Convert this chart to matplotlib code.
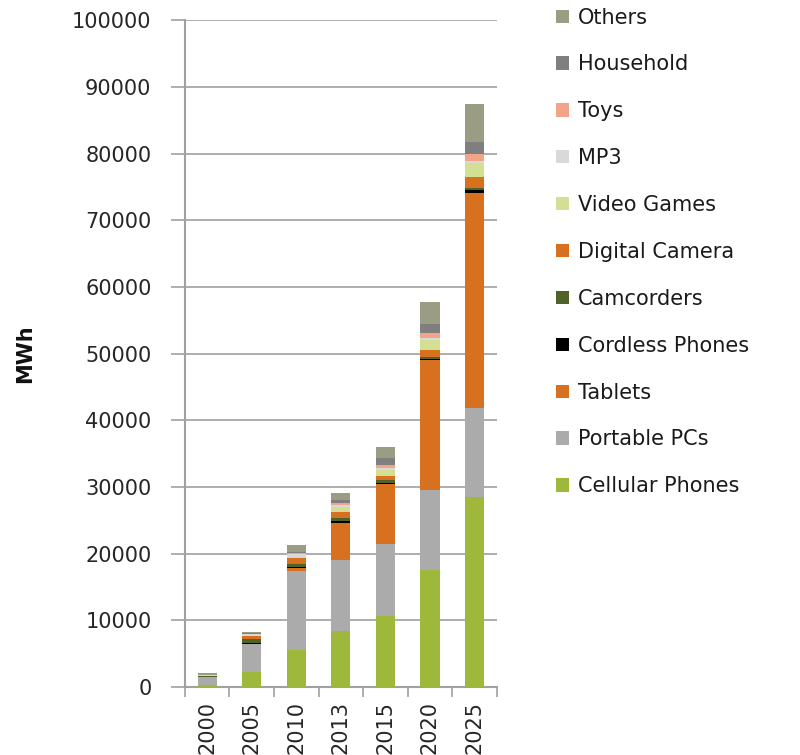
import matplotlib
matplotlib.use("Agg")
import matplotlib.pyplot as plt
import numpy as np
from matplotlib.patches import Patch

years = ["2000", "2005", "2010", "2013", "2015", "2020", "2025"]
series_names = ["Cellular Phones", "Portable PCs", "Tablets", "Cordless Phones",
                "Camcorders", "Digital Camera", "Video Games", "MP3", "Toys",
                "Household", "Others"]

cellular_phones = [300, 2300, 5500, 8400, 10600, 17600, 28500]
portable_pcs    = [1200, 4200, 11900, 10600, 10800, 11900, 13400]
tablets         = [0, 0, 400, 5650, 9000, 19500, 32200]
cordless_phones = [50, 100, 150, 200, 200, 200, 400]
camcorders      = [100, 600, 450, 500, 400, 300, 350]
digital_camera  = [50, 400, 900, 900, 700, 1100, 1600]
video_games     = [0, 100, 200, 700, 900, 1500, 2150]
mp3             = [50, 200, 400, 300, 300, 200, 300]
toys            = [0, 50, 150, 300, 400, 800, 1000]
household       = [100, 100, 200, 500, 1000, 1300, 1850]
others          = [250, 200, 1000, 1100, 1650, 3350, 5750]

colors = ["#9db83a", "#ababab", "#d8711f", "#000000", "#4f6228", "#d8711f",
          "#d3df93", "#d9d9d9", "#f2a488", "#7f7f7f", "#9a9d84"]

data = [cellular_phones, portable_pcs, tablets, cordless_phones, camcorders,
        digital_camera, video_games, mp3, toys, household, others]

fig = plt.figure(figsize=(8, 7.55), dpi=100)
ax = fig.add_axes([0.231, 0.090, 0.390, 0.883])

x = np.arange(len(years))
bottom = np.zeros(len(years))
for vals, col in zip(data, colors):
    ax.bar(x, vals, bottom=bottom, width=0.43, color=col, zorder=3)
    bottom += np.array(vals)

ax.set_ylim(0, 100000)
ax.set_xlim(-0.5, len(years) - 0.5)
ax.set_yticks(np.arange(0, 100001, 10000))
ax.set_yticklabels([str(v) for v in range(0, 100001, 10000)], fontsize=15, color="#262626")
ax.set_xticks(x)
ax.set_xticklabels(years, rotation=90, fontsize=15, color="#262626")
ax.set_xticks(np.arange(-0.5, len(years), 1.0), minor=True)
ax.tick_params(axis="x", which="major", length=0, pad=10)
ax.tick_params(axis="x", which="minor", length=7, width=1.2, color="#a0a0a0", direction="out")
ax.tick_params(axis="y", which="major", length=10, width=1.2, color="#a0a0a0", direction="out", pad=14)

ax.grid(axis="y", color="#a0a0a0", linewidth=1.2, zorder=0)
for s in ["top", "right"]:
    ax.spines[s].set_visible(False)
for s in ["left", "bottom"]:
    ax.spines[s].set_color("#a0a0a0")
    ax.spines[s].set_linewidth(1.5)

fig.text(0.032, 0.532, "MWh", rotation=90, fontsize=15, fontweight="bold",
         ha="center", va="center", color="#111111")

handles = [Patch(facecolor=c, edgecolor="none") for c in colors]
fig.legend(handles[::-1], series_names[::-1], loc="upper left",
           bbox_to_anchor=(0.685, 1.001), frameon=False, fontsize=15,
           labelspacing=1.29, handlelength=0.6, handleheight=0.6,
           handletextpad=0.45, borderaxespad=0, labelcolor="#1a1a1a")

fig.savefig("out.png", dpi=100)
